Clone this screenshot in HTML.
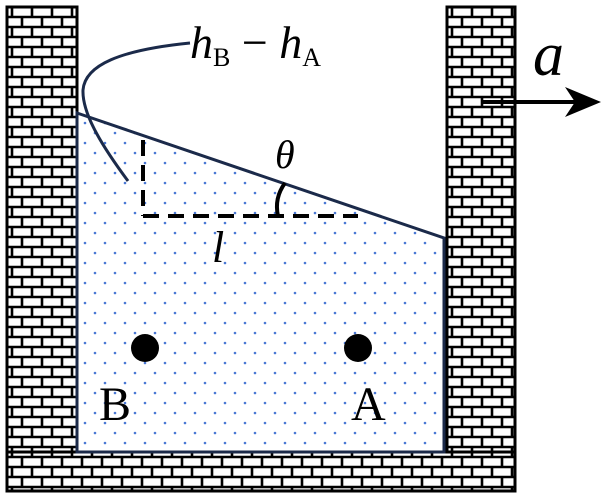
<!DOCTYPE html>
<html><head><meta charset="utf-8"><style>
html,body{margin:0;padding:0;background:#fff;width:605px;height:497px;overflow:hidden}
svg{display:block}
text{font-family:"Liberation Serif",serif}
</style></head><body>
<svg width="605" height="497" viewBox="0 0 605 497">
<defs>
<pattern id="brick" x="7" y="7" width="20" height="20" patternUnits="userSpaceOnUse">
<rect width="20" height="20" fill="#fff"/>
<path d="M0 0H20M0 10H20M0 20H20M5 0V10M15 10V20" stroke="#000" stroke-width="2.6" fill="none"/>
</pattern>
<pattern id="dots" x="77" y="113" width="20" height="20" patternUnits="userSpaceOnUse">
<circle cx="8" cy="10" r="1.3" fill="#4a78d4"/>
<circle cx="18" cy="20" r="1.3" fill="#4a78d4"/>
<circle cx="18" cy="0" r="1.3" fill="#4a78d4"/>
</pattern>
</defs>
<g>
<rect x="7" y="7" width="70" height="484" fill="url(#brick)" stroke="#000" stroke-width="3"/>
<rect x="447" y="7" width="68" height="484" fill="url(#brick)" stroke="#000" stroke-width="3"/>
<rect x="7" y="452" width="508" height="39" fill="url(#brick)" stroke="#000" stroke-width="3"/>
</g>
<polygon points="77,113 444,238 444,452 77,452" fill="#fff"/>
<polygon points="77,113 444,238 444,452 77,452" fill="url(#dots)" stroke="#1b2a4a" stroke-width="3"/>
<path d="M143 140V216" stroke="#000" stroke-width="4" stroke-dasharray="16,9"/>
<path d="M143 216H358" stroke="#000" stroke-width="4" stroke-dasharray="16,9"/>
<path d="M285 183 Q274 198 278 216" stroke="#000" stroke-width="4" fill="none"/>
<path d="M190 43 C120 50 85 65 83 90 C82 115 105 150 128 181" stroke="#1b2a4a" stroke-width="3" fill="none"/>
<circle cx="145" cy="348" r="14" fill="#000"/>
<circle cx="358" cy="348" r="14" fill="#000"/>
<text x="190" y="58" font-size="46"><tspan font-style="italic">h</tspan><tspan font-size="26" dy="8">B</tspan><tspan dy="-8"> − </tspan><tspan font-style="italic">h</tspan><tspan font-size="26" dy="8">A</tspan></text>
<text x="533" y="75" font-size="62" font-style="italic">a</text>
<path d="M482 102H580" stroke="#000" stroke-width="4"/>
<polygon points="601,102 565,87 575,102 565,117" fill="#000"/>
<text x="275" y="168" font-size="40" font-style="italic">θ</text>
<text x="212" y="262" font-size="44" font-style="italic">l</text>
<text x="99" y="420" font-size="48">B</text>
<text x="351" y="420" font-size="48">A</text>
</svg>
</body></html>
